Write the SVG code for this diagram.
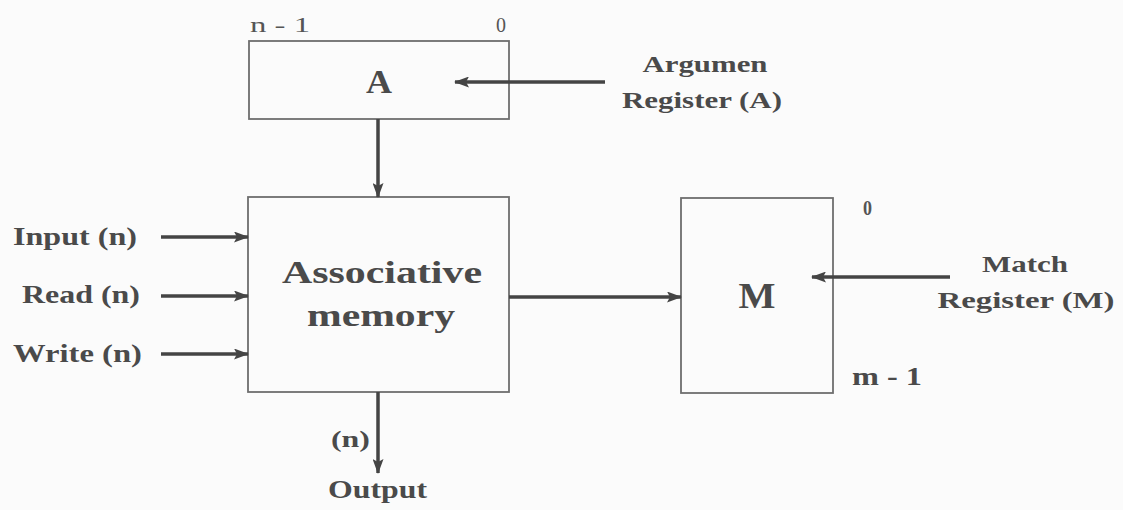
<svg xmlns="http://www.w3.org/2000/svg" width="1123" height="510" viewBox="0 0 1123 510">
<defs>
<marker id="ah" viewBox="0 0 15 11" refX="14" refY="5.5" markerWidth="15" markerHeight="11" markerUnits="userSpaceOnUse" orient="auto">
<path d="M0,0 L15,5.5 L0,11 L3,5.5 Z" fill="#444"/>
</marker>
<style>
.box{fill:none;stroke:#6e6e6e;stroke-width:1.8}
.con{stroke:#444;stroke-width:3.5;fill:none;marker-end:url(#ah)}
.t{font-family:"Liberation Serif","Times New Roman",serif;font-weight:bold;fill:#4a4a4a}
.s{font-family:"Liberation Serif","Times New Roman",serif;fill:#555}
</style>
</defs>
<rect width="1123" height="510" fill="#fbfbfb"/>
<g id="regA">
<rect class="box" x="249" y="41" width="260" height="78"/>
<text class="t" x="379" y="93" font-size="33" text-anchor="middle" textLength="26" lengthAdjust="spacingAndGlyphs">A</text>
<text class="s" x="250" y="32" font-size="22" textLength="60" lengthAdjust="spacingAndGlyphs">n - 1</text>
<text class="s" x="496" y="32" font-size="22" textLength="10" lengthAdjust="spacingAndGlyphs">0</text>
</g>
<g id="argLabel">
<text class="t" x="705" y="72" font-size="24" text-anchor="middle" textLength="125" lengthAdjust="spacingAndGlyphs">Argumen</text>
<text class="t" x="702" y="108" font-size="24" text-anchor="middle" textLength="160" lengthAdjust="spacingAndGlyphs">Register (A)</text>
</g>
<g id="memory">
<rect class="box" x="248" y="197" width="261" height="195"/>
<text class="t" x="382" y="283" font-size="32" text-anchor="middle" textLength="200" lengthAdjust="spacingAndGlyphs">Associative</text>
<text class="t" x="381" y="326" font-size="32" text-anchor="middle" textLength="148" lengthAdjust="spacingAndGlyphs">memory</text>
</g>
<g id="inputs">
<text class="t" x="13" y="245" font-size="26" textLength="124" lengthAdjust="spacingAndGlyphs">Input (n)</text>
<text class="t" x="22" y="303" font-size="26" textLength="118" lengthAdjust="spacingAndGlyphs">Read (n)</text>
<text class="t" x="13" y="362" font-size="26" textLength="129" lengthAdjust="spacingAndGlyphs">Write (n)</text>
</g>
<g id="output">
<text class="t" x="331" y="447" font-size="24" textLength="39" lengthAdjust="spacingAndGlyphs">(n)</text>
<text class="t" x="328" y="498" font-size="25" textLength="99" lengthAdjust="spacingAndGlyphs">Output</text>
</g>
<g id="regM">
<rect class="box" x="681" y="198" width="152" height="195"/>
<text class="t" x="757" y="308" font-size="35" text-anchor="middle" textLength="37" lengthAdjust="spacingAndGlyphs">M</text>
<text class="s" x="863" y="215" font-size="20" textLength="9" lengthAdjust="spacingAndGlyphs" font-weight="bold">0</text>
<text class="t" x="852" y="385" font-size="25" textLength="70" lengthAdjust="spacingAndGlyphs">m - 1</text>
</g>
<g id="matchLabel">
<text class="t" x="1025" y="272" font-size="24" text-anchor="middle" textLength="86" lengthAdjust="spacingAndGlyphs">Match</text>
<text class="t" x="1026" y="308" font-size="24" text-anchor="middle" textLength="177" lengthAdjust="spacingAndGlyphs">Register (M)</text>
</g>
<g id="connectors">
<line class="con" x1="605" y1="82" x2="455" y2="82"/>
<line class="con" x1="378" y1="119" x2="378" y2="197"/>
<line class="con" x1="161" y1="237" x2="248" y2="237"/>
<line class="con" x1="161" y1="296" x2="248" y2="296"/>
<line class="con" x1="161" y1="354" x2="248" y2="354"/>
<line class="con" x1="378" y1="392" x2="378" y2="473"/>
<line class="con" x1="509" y1="297" x2="681" y2="297"/>
<line class="con" x1="950" y1="277" x2="812" y2="277"/>
</g>
</svg>
